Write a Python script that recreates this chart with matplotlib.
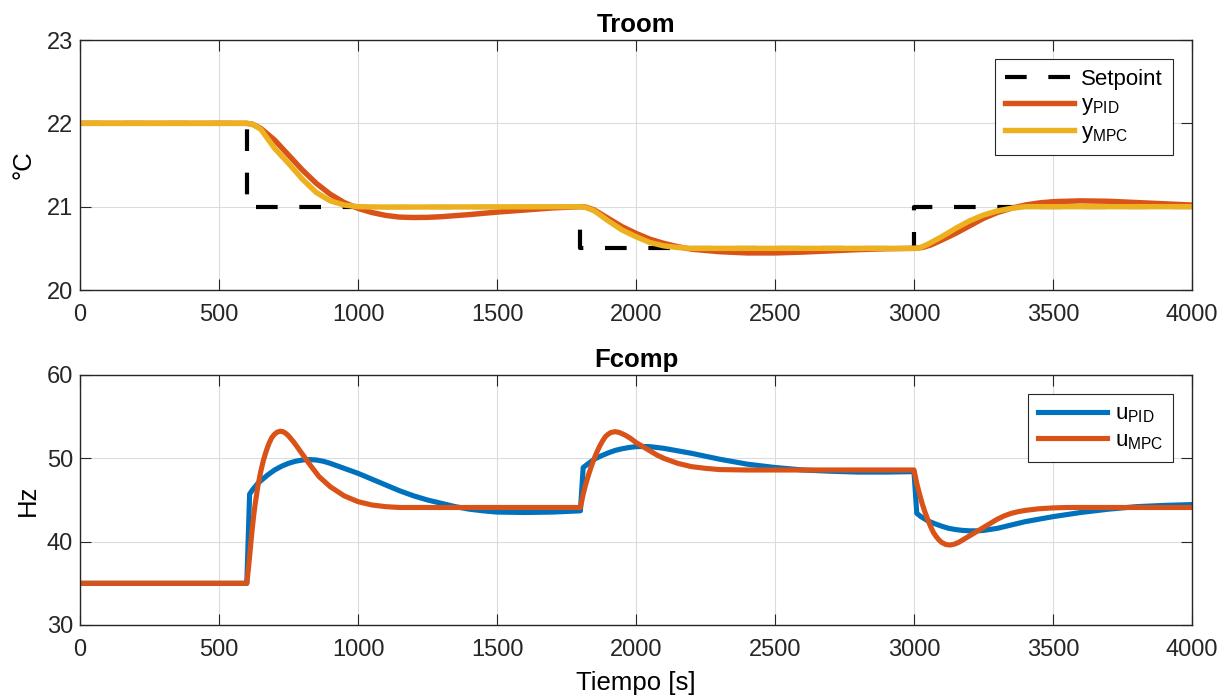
import matplotlib
matplotlib.use('Agg')
import matplotlib.pyplot as plt

# ----------------------------------------------------------
# Datos
# ----------------------------------------------------------

# Setpoint de temperatura (escalones)
T_SP = [0, 600, 600, 1800, 1800, 3000, 3000, 4000]
Y_SP = [22.0, 22.0, 21.0, 21.0, 20.5, 20.5, 21.0, 21.0]

# Temperatura con PID
T_YPID = [0, 600, 620, 650, 700, 750, 800, 850, 900, 950, 1000, 1050, 1100,
          1150, 1200, 1250, 1300, 1400, 1500, 1600, 1700, 1800, 1820, 1850,
          1900, 1950, 2000, 2050, 2100, 2150, 2200, 2300, 2400, 2500, 2600,
          2700, 2800, 2900, 3000, 3030, 3060, 3100, 3150, 3200, 3250, 3300,
          3350, 3400, 3450, 3500, 3600, 3700, 3800, 3900, 4000]
Y_PID = [22.0, 22.0, 21.99, 21.94, 21.80, 21.62, 21.44, 21.28, 21.15, 21.05,
         20.98, 20.93, 20.895, 20.875, 20.87, 20.872, 20.88, 20.905, 20.935,
         20.96, 20.985, 21.0, 20.995, 20.96, 20.86, 20.76, 20.68, 20.61,
         20.56, 20.52, 20.49, 20.46, 20.445, 20.445, 20.455, 20.47, 20.485,
         20.495, 20.5, 20.51, 20.54, 20.60, 20.68, 20.77, 20.86, 20.93, 20.98,
         21.02, 21.045, 21.06, 21.07, 21.065, 21.05, 21.035, 21.02]

# Temperatura con MPC
T_YMPC = [0, 600, 620, 650, 700, 750, 800, 850, 900, 950, 1000, 1100, 1800,
          1820, 1850, 1900, 1950, 2000, 2050, 2100, 2150, 2200, 3000, 3020,
          3050, 3100, 3150, 3200, 3250, 3300, 3350, 3400, 4000]
Y_MPC = [22.0, 22.0, 21.99, 21.93, 21.70, 21.52, 21.33, 21.17, 21.07, 21.02,
         21.0, 20.995, 21.0, 20.99, 20.95, 20.83, 20.72, 20.64, 20.57, 20.53,
         20.51, 20.5, 20.5, 20.505, 20.55, 20.64, 20.74, 20.83, 20.90, 20.95,
         20.98, 21.0, 21.0]

# Frecuencia del compresor con PID
T_UPID = [0, 600, 610, 620, 630, 640, 650, 675, 700, 725, 750, 775, 800, 825,
          850, 875, 900, 950, 1000, 1050, 1100, 1150, 1200, 1250, 1300, 1350,
          1400, 1450, 1500, 1600, 1700, 1800, 1810, 1830, 1850, 1875, 1900,
          1925, 1950, 1975, 2000, 2025, 2050, 2075, 2100, 2150, 2200, 2300,
          2400, 2500, 2600, 2700, 2800, 2900, 3000, 3010, 3025, 3050, 3075,
          3100, 3125, 3150, 3175, 3200, 3225, 3250, 3300, 3350, 3400, 3500,
          3600, 3700, 3800, 3900, 4000]
U_PID = [35.0, 35.0, 45.7, 46.2, 46.6, 47.0, 47.3, 48.0, 48.6, 49.05, 49.4,
         49.65, 49.8, 49.85, 49.8, 49.65, 49.4, 48.8, 48.2, 47.5, 46.8, 46.1,
         45.5, 45.0, 44.6, 44.2, 43.9, 43.7, 43.55, 43.5, 43.55, 43.7, 48.9,
         49.4, 49.9, 50.3, 50.65, 50.95, 51.15, 51.3, 51.4, 51.42, 51.4, 51.3,
         51.2, 50.9, 50.6, 49.9, 49.3, 48.9, 48.6, 48.45, 48.35, 48.35, 48.4,
         43.4, 43.0, 42.5, 42.15, 41.85, 41.6, 41.45, 41.35, 41.3, 41.3, 41.35,
         41.6, 42.0, 42.4, 43.0, 43.5, 43.9, 44.2, 44.35, 44.45]

# Frecuencia del compresor con MPC
T_UMPC = [0, 600, 605, 610, 615, 620, 625, 630, 640, 650, 660, 670, 680, 690,
          700, 710, 720, 730, 740, 750, 770, 800, 830, 860, 900, 950, 1000,
          1050, 1100, 1150, 1800, 1805, 1810, 1820, 1830, 1840, 1850, 1860,
          1870, 1880, 1890, 1900, 1910, 1925, 1940, 1960, 1980, 2000, 2025,
          2050, 2075, 2100, 2150, 2200, 2250, 2300, 2400, 3000, 3010, 3020,
          3030, 3040, 3050, 3060, 3070, 3080, 3090, 3100, 3115, 3130, 3145,
          3160, 3180, 3200, 3225, 3250, 3275, 3300, 3325, 3350, 3375, 3400,
          3450, 3500, 3550, 4000]
U_MPC = [35.0, 35.0, 36.5, 38.2, 40.0, 41.7, 43.2, 44.5, 46.7, 48.4, 49.8,
         50.9, 51.8, 52.5, 52.9, 53.15, 53.25, 53.2, 53.0, 52.7, 51.9, 50.5,
         49.1, 47.8, 46.6, 45.5, 44.8, 44.4, 44.2, 44.1, 44.1, 44.9, 45.7,
         47.0, 48.1, 49.1, 50.0, 50.8, 51.5, 52.1, 52.6, 52.9, 53.1, 53.2,
         53.1, 52.8, 52.4, 51.9, 51.4, 50.9, 50.4, 50.0, 49.4, 49.0, 48.8,
         48.65, 48.6, 48.6, 47.0, 45.7, 44.5, 43.5, 42.6, 41.8, 41.1, 40.6,
         40.2, 39.9, 39.65, 39.6, 39.7, 39.9, 40.3, 40.7, 41.2, 41.7, 42.2,
         42.7, 43.1, 43.4, 43.6, 43.75, 43.95, 44.05, 44.1, 44.1]

BLUE   = '#0072BD'
ORANGE = '#D95319'
YELLOW = '#EDB120'
AXCOL  = '#262626'

plt.rcParams['font.family'] = ['Liberation Sans', 'DejaVu Sans']
plt.rcParams['mathtext.default'] = 'regular'


def style_axes(ax, ylim, yticks):
    "Aspecto tipo MATLAB: caja completa, ticks hacia dentro, rejilla suave"
    ax.set_xlim(0, 4000)
    ax.set_ylim(*ylim)
    ax.set_xticks(range(0, 4001, 500))
    ax.set_yticks(yticks)
    ax.grid(True, color='#dcdcdc', linewidth=0.8)
    ax.set_axisbelow(True)
    for sp in ax.spines.values():
        sp.set_color(AXCOL)
        sp.set_linewidth(1.0)
    ax.tick_params(direction='in', top=True, right=True, length=8,
                   width=0.8, colors=AXCOL, labelsize=17, pad=5)
    ax.tick_params(axis='x', pad=10)


fig = plt.figure(figsize=(12.31, 6.97), dpi=100)
ax1 = fig.add_axes([0.065, 0.5839, 0.9033, 0.3587])
ax2 = fig.add_axes([0.065, 0.1033, 0.9033, 0.3587])

# Subgrafica 1: temperatura
ax1.plot(T_SP, Y_SP, color='black', linewidth=3.0, dashes=(5.2, 5.2),
         label='Setpoint')
ax1.plot(T_YPID, Y_PID, color=ORANGE, linewidth=3.9, label=r'$y_{PID}$')
ax1.plot(T_YMPC, Y_MPC, color=YELLOW, linewidth=3.9, label=r'$y_{MPC}$')
style_axes(ax1, (20, 23), [20, 21, 22, 23])
ax1.set_title('Troom', fontsize=18.5, fontweight='bold', pad=6)
ax1.set_ylabel('°C', fontsize=18.5, labelpad=8)

# Subgrafica 2: frecuencia del compresor
ax2.plot(T_UPID, U_PID, color=BLUE, linewidth=3.7, label=r'$u_{PID}$')
ax2.plot(T_UMPC, U_MPC, color=ORANGE, linewidth=3.7, label=r'$u_{MPC}$')
style_axes(ax2, (30, 60), [30, 40, 50, 60])
ax2.set_title('Fcomp', fontsize=18.5, fontweight='bold', pad=6)
ax2.set_ylabel('Hz', fontsize=18.5, labelpad=5)
ax2.set_xlabel('Tiempo [s]', fontsize=18.5, labelpad=7)

for ax in (ax1, ax2):
    leg = ax.legend(loc='upper right', fontsize=16, frameon=True,
                    fancybox=False, framealpha=1, edgecolor=AXCOL,
                    handlelength=3.1, handletextpad=0.35, labelspacing=0.2,
                    borderaxespad=0.85, borderpad=0.45)
    leg.get_frame().set_linewidth(0.8)

fig.savefig('out.png', dpi=100)
